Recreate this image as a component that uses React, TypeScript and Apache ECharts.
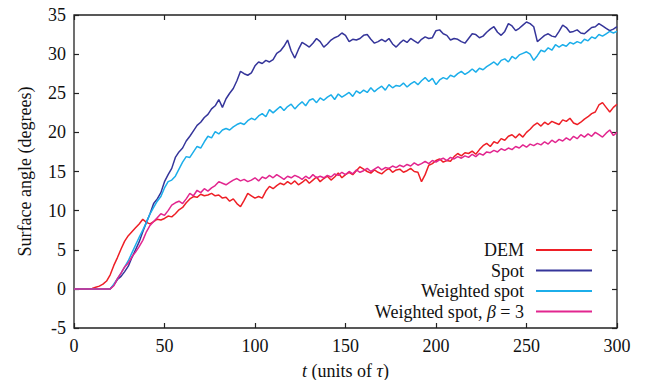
import React, { useEffect, useRef } from "react";
import * as echarts from "echarts";

// sample spacing of the series below, in units of tau
const T_STEP = 2;

const xTicks = { min: 0, max: 300, interval: 50 };
const yTicks = { min: -5, max: 35, interval: 5 };

const seriesNames = ["DEM", "Spot", "Weighted spot", "Weighted spot, β = 3"];
const seriesColors = ["#ee1f26", "#35359a", "#1caeea", "#e2268f"];

// values at t = 0, 2, 4, ..., 300 (ten per row = 20 units of t)
const dem = [
  0, 0, 0, 0, 0, 0.05, 0.2, 0.35, 0.6, 1.0,
  1.8, 3.0, 4.0, 5.1, 6.1, 6.8, 7.3, 7.8, 8.3, 8.9,
  8.5, 8.3, 8.6, 8.9, 8.8, 9.0, 9.3, 9.2, 9.6, 10.1,
  10.4, 11.0, 11.5, 11.8, 11.7, 12.1, 11.9, 12.0, 12.2, 11.9,
  12.0, 11.6, 11.7, 11.2, 11.5, 10.9, 10.5, 11.3, 12.2, 11.9,
  11.6, 11.8, 11.6, 12.5, 13.1, 12.8, 13.2, 13.5, 13.3, 13.7,
  13.4, 13.8, 13.3, 13.6, 14.0, 13.5, 13.9, 14.3, 13.7, 14.1,
  14.4, 13.9, 14.3, 14.8, 14.2, 14.6, 14.9, 14.6, 15.1, 15.6,
  15.3, 15.0, 14.8, 15.2, 14.9, 14.7, 15.1, 15.4, 14.9, 15.2,
  15.3, 14.9, 15.1, 15.4, 15.0, 14.9, 13.7, 14.6, 15.8, 16.0,
  16.4, 16.6, 16.2, 16.4, 16.3, 16.9, 17.3, 17.0, 17.4, 17.3,
  17.6, 17.2, 17.8, 18.3, 18.6, 18.2, 18.8, 18.6, 19.2, 19.0,
  19.5, 19.7, 19.3, 19.8, 19.4, 20.0, 20.4, 20.9, 21.2, 20.8,
  21.3, 21.0, 21.4, 21.2, 21.0, 21.6, 21.4, 21.8, 21.2, 21.0,
  21.3, 21.7, 22.0, 22.4, 22.6, 23.5, 23.8, 23.2, 22.6, 23.2,
  23.6,
];

const spot = [
  0, 0, 0, 0, 0, 0, 0, 0, 0, 0,
  0, 0.5, 1.2, 1.6, 2.2, 2.9, 4.0, 5.0, 6.0, 7.3,
  8.5, 9.6, 10.9, 11.5, 12.3, 13.7, 14.6, 15.4, 16.8, 17.5,
  18.0, 18.9, 19.5, 20.2, 20.9, 21.3, 21.9, 22.3, 23.0, 23.4,
  24.2, 23.2, 24.3, 25.0, 25.6, 26.6, 27.8, 27.5, 27.3, 27.6,
  28.5, 29.0, 28.8, 29.2, 29.0, 29.3, 30.1, 30.4, 31.0, 31.8,
  30.4, 29.5, 30.6, 31.5, 31.2, 30.9, 31.4, 32.0, 31.6, 30.9,
  31.3, 31.8, 32.1, 32.3, 32.7, 32.4, 31.6, 31.9, 31.8, 32.0,
  32.4, 32.5, 31.9, 31.4, 31.6, 31.9, 31.6, 32.0, 31.3, 30.9,
  31.4, 31.8, 31.5, 32.0, 31.7, 31.4, 31.9, 32.2, 32.0, 32.1,
  33.0, 33.1, 32.6, 32.4, 31.8, 32.0, 31.9, 31.6, 31.4, 32.0,
  32.6, 32.5, 32.1, 32.3, 32.8, 33.2, 33.5, 32.8, 32.4, 32.9,
  33.9, 33.6, 33.0, 33.3, 33.7, 34.1, 33.9, 33.5, 31.6, 32.0,
  32.4, 32.6, 32.3, 32.2, 32.9, 33.7, 33.4, 32.8, 32.9, 33.1,
  32.7, 32.6, 33.0, 33.4, 33.5, 33.9, 33.6, 33.3, 33.0, 33.2,
  33.5,
];

const weightedSpot = [
  0, 0, 0, 0, 0, 0, 0, 0, 0, 0,
  0, 0.6, 1.3, 2.0, 2.8, 3.6, 4.6, 5.6, 6.6, 7.5,
  8.5, 9.6, 10.4, 11.2, 11.8, 12.9, 13.7, 13.9, 14.4, 15.3,
  16.2, 16.9, 16.8, 17.5, 18.2, 18.0, 18.8, 19.5, 19.3, 20.1,
  19.8, 20.3, 20.5, 20.3, 20.7, 21.0, 21.2, 21.0, 21.5, 21.8,
  21.6, 22.1, 22.4, 22.0, 22.9, 22.5, 22.9, 23.3, 22.8, 23.3,
  23.6, 23.0, 23.5, 23.9, 23.4, 24.1, 24.3, 23.8, 24.4, 24.1,
  24.5, 24.8, 24.2, 24.9, 24.5, 24.8, 25.1, 24.6, 25.3, 25.0,
  25.4, 25.1, 25.7, 25.2, 25.6, 25.9, 25.4, 26.1, 25.7, 26.0,
  25.9, 26.3, 25.8, 26.2, 26.5, 26.1, 26.6, 27.0, 26.5, 26.9,
  26.1, 26.7, 27.0, 26.8, 27.3, 27.1, 27.5, 27.8, 27.4, 27.7,
  28.1, 27.7, 28.2, 28.0, 28.4, 28.7, 29.0, 28.6, 29.2, 29.4,
  29.0, 29.7, 29.4, 29.9, 30.1, 30.3, 30.0, 29.2, 29.8, 30.5,
  30.3, 30.8, 30.5, 31.2, 30.9, 31.2, 31.0, 31.5, 31.3, 31.6,
  31.4, 31.9, 31.7, 32.2, 32.0, 32.5, 32.3, 32.6, 32.9, 32.7,
  32.9,
];

const weightedBeta3 = [
  0, 0, 0, 0, 0, 0, 0, 0, 0, 0,
  0, 0.4, 1.3, 2.0, 2.8, 3.3, 4.1, 4.7, 5.4, 6.2,
  7.3, 8.1, 8.6, 9.1, 9.6, 9.4, 10.0, 10.7, 11.0, 11.2,
  10.9, 11.5, 12.2, 11.9, 12.6, 12.3, 12.8, 12.5, 12.9, 13.2,
  13.7, 13.5, 13.3, 13.6, 13.9, 14.1, 13.8, 14.0, 13.7, 13.9,
  14.2, 13.8, 14.3, 14.1, 14.5, 14.2, 14.6, 14.3, 14.0, 14.4,
  14.2, 14.5, 14.3, 14.0, 14.4, 14.1, 14.6, 14.2, 14.4, 14.2,
  14.5, 14.3, 14.7, 14.5, 14.9, 14.6, 15.0, 14.7, 15.2, 14.9,
  15.1, 15.4, 15.0, 15.3, 15.6, 15.2, 15.5, 15.4, 15.7, 15.5,
  15.8, 15.6, 15.9, 15.7, 16.1, 15.8, 16.0, 16.3, 16.0, 16.4,
  16.2, 16.5, 16.7, 16.4, 16.8, 16.6, 16.9, 16.7, 17.0, 16.8,
  17.2, 16.9, 17.3, 17.1, 17.5, 17.4, 17.7, 17.5, 17.9, 17.7,
  18.0, 17.8, 18.2, 18.0, 18.4, 18.1, 18.5, 18.3, 18.6, 18.4,
  18.8, 18.5, 19.0, 18.7, 19.1, 18.9, 19.3, 19.0, 19.5, 19.2,
  19.7, 19.4, 19.8, 19.5, 20.0, 19.7, 19.4, 19.9, 20.3, 19.6,
  20.0,
];

const seriesValues = [dem, spot, weightedSpot, weightedBeta3];

const FONT = "'Liberation Serif', 'Times New Roman', serif";
const FS = 18;

export default function App() {
  const ref = useRef<HTMLDivElement>(null);

  useEffect(() => {
    if (!ref.current) return;
    const chart = echarts.init(ref.current, undefined, { renderer: "svg" });

    const tickAxisCommon = {
      axisLine: { show: false, onZero: false },
      axisTick: { show: true, inside: true, length: 5, lineStyle: { color: "#222", width: 1.2 } },
      splitLine: { show: false },
    };

    chart.setOption({
      animation: false,
      backgroundColor: "#ffffff",
      textStyle: { fontFamily: FONT },
      grid: {
        left: 74,
        right: 31,
        top: 15,
        bottom: 52,
        containLabel: false,
        outerBoundsMode: "none",
        show: true,
        borderColor: "#222",
        borderWidth: 1.3,
        backgroundColor: "transparent",
      },
      xAxis: [
        {
          type: "value",
          position: "bottom",
          ...xTicks,
          ...tickAxisCommon,
          axisLabel: { color: "#111", fontSize: FS, fontFamily: FONT, margin: 9 },
          name: "{i|t} (units of {i|τ})",
          nameLocation: "middle",
          nameGap: 34,
          nameTextStyle: {
            color: "#111",
            fontSize: FS,
            fontFamily: FONT,
            lineHeight: 17,
            rich: {
              i: { fontStyle: "italic", fontSize: FS, fontFamily: FONT, color: "#111", lineHeight: 17 },
            },
          },
        },
        {
          type: "value",
          position: "top",
          ...xTicks,
          ...tickAxisCommon,
          axisLabel: { show: false },
        },
      ],
      yAxis: [
        {
          type: "value",
          position: "left",
          ...yTicks,
          ...tickAxisCommon,
          axisLabel: { color: "#111", fontSize: FS, fontFamily: FONT, margin: 8 },
          name: "Surface angle (degrees)",
          nameLocation: "middle",
          nameGap: 40,
          nameTextStyle: { color: "#111", fontSize: FS, fontFamily: FONT },
        },
        {
          type: "value",
          position: "right",
          ...yTicks,
          ...tickAxisCommon,
          axisLabel: { show: false },
        },
      ],
      legend: {
        orient: "vertical",
        align: "right",
        right: 56,
        top: 241,
        padding: 0,
        itemGap: 2.5,
        itemWidth: 56,
        itemHeight: 2,
        icon: "rect",
        data: seriesNames,
        formatter: (name: string) =>
          name === seriesNames[3] ? "Weighted spot, {i|β} = 3" : name,
        textStyle: {
          color: "#111",
          fontSize: FS,
          fontFamily: FONT,
          lineHeight: 18,
          padding: [0, 7, 0, 0],
          rich: { i: { fontStyle: "italic", fontSize: FS, fontFamily: FONT, color: "#111", lineHeight: 18 } },
        },
      },
      series: seriesNames.map((name, k) => ({
        name,
        type: "line",
        xAxisIndex: 0,
        yAxisIndex: 0,
        symbol: "none",
        showSymbol: false,
        color: seriesColors[k],
        lineStyle: { color: seriesColors[k], width: 1.5 },
        data: seriesValues[k].map((v, i) => [i * T_STEP, v]),
      })),
    });

    return () => chart.dispose();
  }, []);

  return (
    <div
      ref={ref}
      style={{ position: "fixed", left: 0, top: 0, width: 648, height: 380 }}
    />
  );
}
